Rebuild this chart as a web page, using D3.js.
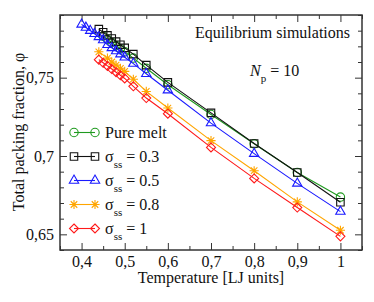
<!DOCTYPE html>
<meta charset="utf-8">
<style>
  body { margin: 0; background: white; }
  svg { display: block; font-family: "Liberation Serif", "DejaVu Serif", serif; }
  .tick line { stroke: #333; }
</style>
<body>
<script src="https://d3js.org/d3.v7.min.js"></script>
<script>
  'use strict';

  // temperatures and packing fractions
  const tMelt = [0.45, 0.46, 0.47, 0.48, 0.49, 0.5, 0.52, 0.55, 0.6, 0.7, 0.8, 0.9, 1];
  const phiMelt = [0.7765, 0.7745, 0.7725, 0.7705, 0.7685, 0.7665, 0.7625, 0.756, 0.7455, 0.7265, 0.7078, 0.6895, 0.6738];

  const t03 = [0.44, 0.45, 0.46, 0.47, 0.48, 0.49, 0.5, 0.52, 0.55, 0.6, 0.7, 0.8, 0.9, 1];
  const phi03 = [0.781, 0.779, 0.777, 0.775, 0.773, 0.771, 0.769, 0.765, 0.758, 0.747, 0.7275, 0.708, 0.6895, 0.6705];

  const t05 = [0.4, 0.41, 0.42, 0.43, 0.44, 0.45, 0.46, 0.47, 0.48, 0.49, 0.5, 0.52, 0.55, 0.6, 0.7, 0.8, 0.9, 1];
  const phi05 = [0.784, 0.782, 0.78, 0.778, 0.776, 0.774, 0.771, 0.769, 0.767, 0.765, 0.763, 0.759, 0.7525, 0.742, 0.721, 0.7015, 0.6825, 0.6645];

  const t08 = [0.44, 0.46, 0.47, 0.48, 0.49, 0.5, 0.52, 0.55, 0.6, 0.7, 0.8, 0.9, 1];
  const phi08 = [0.7665, 0.7625, 0.76, 0.758, 0.756, 0.754, 0.749, 0.7412, 0.7306, 0.7098, 0.6906, 0.6707, 0.6526];

  const t1 = [0.44, 0.45, 0.46, 0.47, 0.48, 0.49, 0.5, 0.52, 0.55, 0.6, 0.7, 0.8, 0.9, 1];
  const phi1 = [0.7615, 0.7595, 0.7575, 0.7555, 0.7535, 0.7515, 0.7495, 0.7445, 0.737, 0.727, 0.7055, 0.6857, 0.6671, 0.6487];

  const xTicks = [0.4, 0.5, 0.6, 0.7, 0.8, 0.9, 1];
  const yTicks = [0.65, 0.7, 0.75];

  const series = [
    {label: "Pure melt", sigma: null, t: tMelt, phi: phiMelt, color: "#1f9a1f", mark: "circle"},
    {label: "0.3", sigma: true, t: t03, phi: phi03, color: "#111111", mark: "square"},
    {label: "0.5", sigma: true, t: t05, phi: phi05, color: "#1a1aff", mark: "triangle"},
    {label: "0.8", sigma: true, t: t08, phi: phi08, color: "#ffa500", mark: "star"},
    {label: "1", sigma: true, t: t1, phi: phi1, color: "#ff1a1a", mark: "diamond"}
  ];

  const W = 374, H = 302;
  const margin = {top: 15, right: 12, bottom: 52, left: 60};
  const serif = '"Liberation Serif", "DejaVu Serif", serif';

  const x = d3.scaleLinear().domain([0.35, 1.05]).range([margin.left, W - margin.right]);
  const y = d3.scaleLinear().domain([0.64, 0.79]).range([H - margin.bottom, margin.top]);

  const svg = d3.select("body").append("svg").attr("width", W).attr("height", H);

  const fmt = (d) => String(d).replace(".", ",");
  const xMinor = d3.range(0.35, 1.051, 0.05).filter((v) => !xTicks.some((t) => Math.abs(t - v) < 1e-6));
  const yMinor = d3.range(0.64, 0.7901, 0.01).filter((v) => !yTicks.some((t) => Math.abs(t - v) < 1e-6));

  function axisPair(gen, scale, major, minor, transform, labels) {
    const g = svg.append("g").attr("transform", transform);
    g.call(gen(scale).tickValues(major).tickSizeInner(-7).tickSizeOuter(0).tickPadding(6)
      .tickFormat(labels ? fmt : () => ""));
    g.append("g").call(gen(scale).tickValues(minor).tickSizeInner(-4).tickSizeOuter(0).tickFormat(() => ""))
      .select(".domain").remove();
    g.select(".domain").remove();
    g.attr("font-family", serif).attr("font-size", 16);
    g.selectAll("text").style("font-family", serif).style("font-size", "16px").attr("fill", "#111");
    return g;
  }

  axisPair(d3.axisBottom, x, xTicks, xMinor, `translate(0,${y.range()[0]})`, true);
  axisPair(d3.axisTop, x, xTicks, xMinor, `translate(0,${y.range()[1]})`, false);
  axisPair(d3.axisLeft, y, yTicks, yMinor, `translate(${x.range()[0]},0)`, true);
  axisPair(d3.axisRight, y, yTicks, yMinor, `translate(${x.range()[1]},0)`, false);

  svg.append("rect")
    .attr("x", x.range()[0]).attr("y", y.range()[1])
    .attr("width", x.range()[1] - x.range()[0]).attr("height", y.range()[0] - y.range()[1])
    .attr("fill", "none").attr("stroke", "#333").attr("stroke-width", 1.5);

  function markPath(kind) {
    if (kind === "circle") return d3.symbol(d3.symbolCircle, 55)();
    if (kind === "square") return d3.symbol(d3.symbolSquare, 56)();
    if (kind === "triangle") return d3.symbol(d3.symbolTriangle, 38)();
    if (kind === "diamond") return "M0,-4.5L4.5,0L0,4.5L-4.5,0Z";
    const r = 4.6, a = r * Math.SQRT1_2;
    return `M${-r},0L${r},0M0,${-r}L0,${r}M${-a},${-a}L${a},${a}M${-a},${a}L${a},${-a}`;
  }

  const line = d3.line().x((d) => x(d[0])).y((d) => y(d[1]));

  series.forEach((s) => {
    const pts = s.t.map((t, i) => [t, s.phi[i]]);
    const g = svg.append("g");
    g.append("path").datum(pts).attr("d", line)
      .attr("fill", "none").attr("stroke", s.color).attr("stroke-width", 1.1);
    g.selectAll("path.m").data(pts).enter().append("path").attr("class", "m")
      .attr("transform", (d) => `translate(${x(d[0])},${y(d[1])})`)
      .attr("d", markPath(s.mark))
      .attr("fill", "none").attr("stroke", s.color).attr("stroke-width", 1.1);
  });

  // legend
  const leg = svg.append("g");
  series.forEach((s, i) => {
    const cy = 132.5 + i * 24;
    const row = leg.append("g");
    row.append("line").attr("x1", 74).attr("x2", 95).attr("y1", cy).attr("y2", cy)
      .attr("stroke", s.color).attr("stroke-width", 1.1);
    [74, 95].forEach((cx) => row.append("path")
      .attr("transform", `translate(${cx},${cy})`).attr("d", markPath(s.mark))
      .attr("fill", "none").attr("stroke", s.color).attr("stroke-width", 1.1));
    const txt = row.append("text").attr("x", 105).attr("y", cy + 5.5).attr("font-size", 16).attr("fill", "#111");
    if (s.sigma) {
      txt.append("tspan").text("σ");
      txt.append("tspan").attr("dy", 6).attr("font-size", 11).text("ss");
      txt.append("tspan").attr("dy", -6).text(" = " + s.label);
    } else {
      txt.text(s.label);
    }
  });

  svg.append("text").attr("x", 350).attr("y", 38).attr("text-anchor", "end")
    .attr("font-size", 16).attr("fill", "#111").text("Equilibrium simulations");

  const np = svg.append("text").attr("x", 250).attr("y", 76).attr("font-size", 16).attr("fill", "#111");
  np.append("tspan").attr("font-style", "italic").text("N");
  np.append("tspan").attr("dy", 6).attr("font-size", 11).text("p");
  np.append("tspan").attr("dy", -6).text(" = 10");

  svg.append("text").attr("x", 211).attr("y", 283).attr("text-anchor", "middle")
    .attr("font-size", 16).attr("fill", "#111").text("Temperature [LJ units]");

  svg.append("text").attr("transform", "translate(24,132) rotate(-90)").attr("text-anchor", "middle")
    .attr("font-size", 16).attr("fill", "#111").text("Total packing fraction, φ");
</script>
</body>
